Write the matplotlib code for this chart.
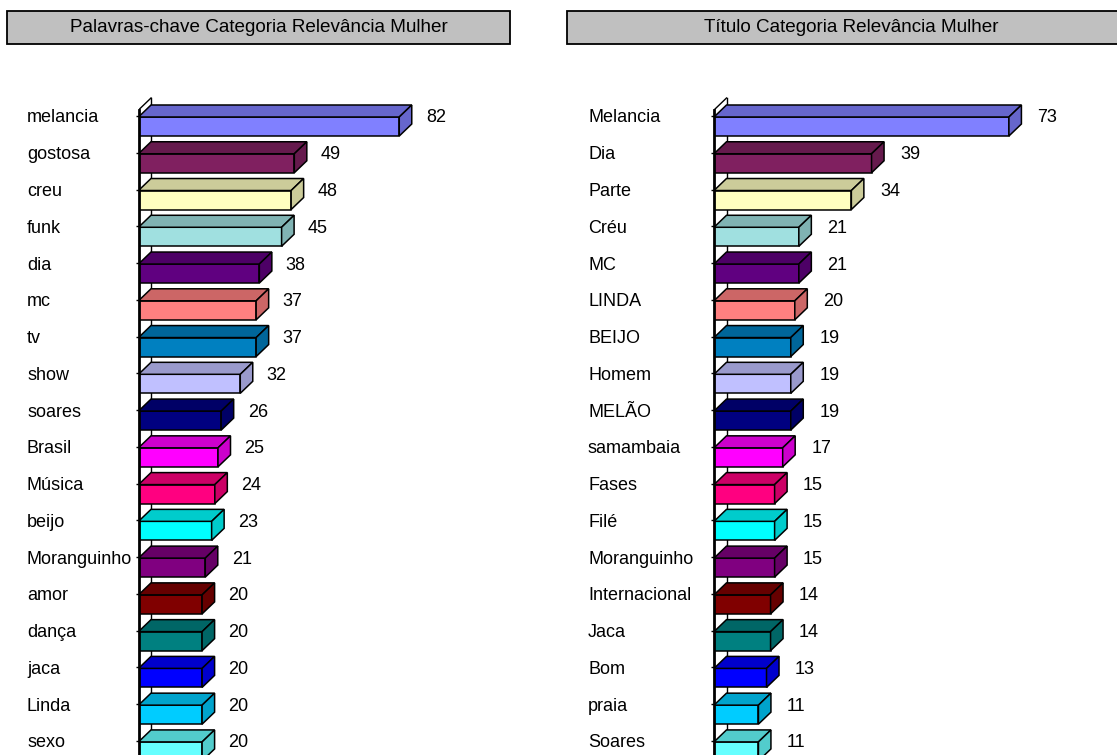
import matplotlib
matplotlib.use("Agg")
import matplotlib.pyplot as plt
from matplotlib.patches import Rectangle, Polygon
from matplotlib.colors import to_rgb

plt.rcParams['font.family'] = ['Liberation Sans', 'DejaVu Sans']

# ---- data ----
left_title = "Palavras-chave Categoria Relevância Mulher"
left_cats = ["melancia", "gostosa", "creu", "funk", "dia", "mc", "tv", "show", "soares",
             "Brasil", "Música", "beijo", "Moranguinho", "amor", "dança", "jaca", "Linda", "sexo"]
left_vals = [82, 49, 48, 45, 38, 37, 37, 32, 26, 25, 24, 23, 21, 20, 20, 20, 20, 20]

right_title = "Título Categoria Relevância Mulher"
right_cats = ["Melancia", "Dia", "Parte", "Créu", "MC", "LINDA", "BEIJO", "Homem", "MELÃO",
              "samambaia", "Fases", "Filé", "Moranguinho", "Internacional", "Jaca", "Bom",
              "praia", "Soares"]
right_vals = [73, 39, 34, 21, 21, 20, 19, 19, 19, 17, 15, 15, 15, 14, 14, 13, 11, 11]

colors = ['#8080FF', '#802060', '#FFFFC0', '#A0E0E0', '#600080', '#FF8080', '#0080C0',
          '#C0C0FF', '#000080', '#FF00FF', '#FF0080', '#00FFFF', '#800080', '#800000',
          '#008080', '#0000FF', '#00CCFF', '#66FFFF']

W, H = 1117, 755
fig = plt.figure(figsize=(W / 100, H / 100), dpi=100)

ROW = 36.76      # px between categories
Y0 = 116         # px of first category
TOP_PX, BOT_PX = 60, 755
DEPTH = 12.5     # px 3-D depth
FS = 13
FS_TITLE = 13.6


def darker(c, f=0.8):
    r, g, b = to_rgb(c)
    return (r * f, g * f, b * f)


def panel(x0_px, right_px, scale, cats, vals, label_left_px, lab_gap):
    ax = fig.add_axes([x0_px / W, (H - BOT_PX) / H, (right_px - x0_px) / W, (BOT_PX - TOP_PX) / H])
    ax.set_xlim(0, (right_px - x0_px) / scale)
    ax.set_ylim((BOT_PX - Y0) / ROW, (TOP_PX - Y0) / ROW)
    for s in ax.spines.values():
        s.set_visible(False)
    ax.set_xticks([])
    ax.patch.set_alpha(0)
    dx = DEPTH / scale
    dy = -12 / ROW
    ft = 1 / ROW
    fb = 20 / ROW
    rows = list(range(len(cats)))
    # walls
    ax.plot([dx, dx], [-18 / ROW, 30], color='black', lw=1.0, zorder=1, clip_on=False)
    ax.plot([0, dx], [-6 / ROW, -18 / ROW], color='black', lw=1.0, zorder=1)
    for i, (v, c) in enumerate(zip(vals, colors)):
        yt, yb = i + ft, i + fb
        ax.add_patch(Rectangle((0, yt), v, yb - yt, facecolor=c, edgecolor='black', lw=1.1, zorder=3))
        ax.add_patch(Polygon([(0, yt), (v, yt), (v + dx, yt + dy), (dx, yt + dy)], closed=True,
                             facecolor=darker(c), edgecolor='black', lw=1.1, zorder=3))
        ax.add_patch(Polygon([(v, yt), (v + dx, yt + dy), (v + dx, yb + dy), (v, yb)], closed=True,
                             facecolor=darker(c), edgecolor='black', lw=1.1, zorder=3))
        ax.annotate(str(v), xy=(v + dx, i), xytext=(lab_gap * 0.72, 0), textcoords='offset points',
                    ha='left', va='center_baseline', fontsize=FS, color='black', zorder=5)
    ax.plot([0, 0], [-6 / ROW, 30], color='black', lw=2.0, zorder=4, clip_on=False)
    ax.set_yticks(rows)
    ax.set_yticklabels(cats, ha='left', fontsize=FS)
    tick_len = 3 * 0.72
    ax.tick_params(axis='y', length=tick_len, width=1.0, direction='out',
                   pad=(x0_px - label_left_px) * 0.72 - tick_len)
    return ax


panel(138.5, 560, 3.18, left_cats, left_vals, 27, 14)
panel(714, 1117, 4.04, right_cats, right_vals, 588, 16)

# title boxes
for (x1, x2, title) in [(7, 510, left_title), (567, 1135, right_title)]:
    y1, y2 = 11, 44
    fig.add_artist(Rectangle((x1 / W, 1 - y2 / H), (x2 - x1) / W, (y2 - y1) / H,
                             transform=fig.transFigure, facecolor='#C0C0C0',
                             edgecolor='black', lw=1.3, clip_on=False))
    fig.text((x1 + x2) / 2 / W, 1 - (y1 + y2) / 2 / H, title, ha='center', va='center',
             fontsize=FS_TITLE)

fig.savefig("out.png", dpi=100)
